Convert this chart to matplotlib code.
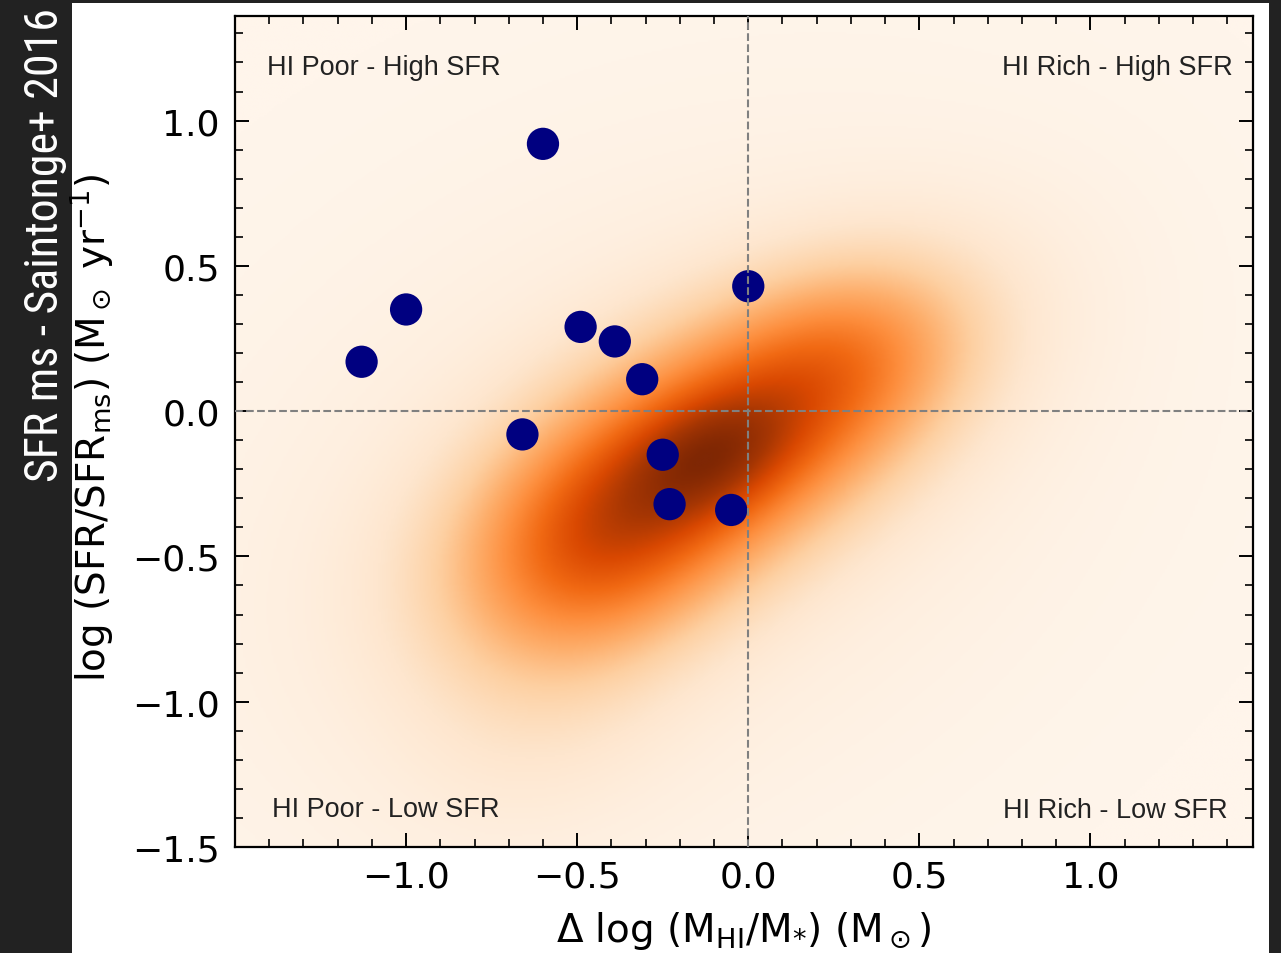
import numpy as np
import matplotlib
matplotlib.use('Agg')
import matplotlib.pyplot as plt
from matplotlib.patches import Rectangle
from matplotlib.ticker import MultipleLocator

# Galaxy sample: HI deficiency vs. offset from the SFR main sequence
delta_hi = [-0.60, -1.00, -1.13, -0.49, -0.39, -0.31, 0.00, -0.66, -0.25, -0.23, -0.05]
delta_sfr = [0.92, 0.35, 0.17, 0.29, 0.24, 0.11, 0.43, -0.08, -0.15, -0.32, -0.34]

# Reference population density as a sum of rotated gaussians
comp_x = [-0.10, -0.10, -0.45, 0.30, -0.60, -0.30]
comp_y = [-0.13, -0.15, -0.50, 0.20, -1.00, -0.30]
comp_sa = [0.50, 0.18, 0.30, 0.27, 0.35, 0.95]   # sigma along major axis
comp_sb = [0.27, 0.13, 0.24, 0.21, 0.27, 0.70]   # sigma along minor axis
comp_ang = [35, 35, 45, 35, 60, 40]              # major axis angle, deg
comp_w = [1.00, 0.30, 0.45, 0.30, 0.12, 0.13]

quadrants = ['HI Poor - High SFR', 'HI Rich - High SFR',
             'HI Poor - Low SFR', 'HI Rich - Low SFR']

xmin, xmax = -1.5, 1.475
ymin, ymax = -1.5, 1.36

fig = plt.figure(figsize=(12.81, 9.54), dpi=100, facecolor='#222222')
fig.patches.append(Rectangle((72 / 1281, 0), (1269 - 72) / 1281, 950 / 954,
                             transform=fig.transFigure, facecolor='white',
                             edgecolor='none', zorder=-5))

fig.text(45 / 1281, 1 - 245 / 954, 'SFR ms - Saintonge+ 2016', rotation=90,
         color='white', fontsize=33, ha='center', va='center',
         family=['Roboto Condensed', 'Oswald', 'Liberation Sans Narrow', 'DejaVu Sans'])

ax = fig.add_axes([235 / 1281, 1 - 848 / 954, (1253 - 235) / 1281, (848 - 17) / 954])

# density field
gx = np.linspace(xmin, xmax, 400)
gy = np.linspace(ymin, ymax, 400)
X, Y = np.meshgrid(gx, gy)
Z = np.zeros_like(X)
for cx, cy, sa, sb, ang, w in zip(comp_x, comp_y, comp_sa, comp_sb, comp_ang, comp_w):
    t = np.deg2rad(ang)
    u = ((X - cx) * np.cos(t) + (Y - cy) * np.sin(t)) / sa
    v = (-(X - cx) * np.sin(t) + (Y - cy) * np.cos(t)) / sb
    Z += w * np.exp(-0.5 * (u * u + v * v))
Z /= Z.max()

ax.imshow(Z, origin='lower', extent=[xmin, xmax, ymin, ymax], cmap='Oranges',
          vmin=0, vmax=1, aspect='auto', interpolation='bilinear', zorder=0)

ax.scatter(delta_hi, delta_sfr, s=540, color='navy', edgecolors='none', zorder=2)

ax.axvline(0, color='gray', ls='--', lw=1.5, zorder=3)
ax.axhline(0, color='gray', ls='--', lw=1.5, zorder=3)

ax.set_xlim(xmin, xmax)
ax.set_ylim(ymin, ymax)

ax.xaxis.set_major_locator(MultipleLocator(0.5))
ax.xaxis.set_minor_locator(MultipleLocator(0.1))
ax.yaxis.set_major_locator(MultipleLocator(0.5))
ax.yaxis.set_minor_locator(MultipleLocator(0.1))
ax.tick_params(which='both', direction='in', top=True, right=True, labelsize=26)
ax.tick_params(which='major', length=10, width=1.4)
ax.tick_params(which='minor', length=6, width=1.2)
ax.tick_params(axis='x', which='major', pad=9)
ax.tick_params(axis='y', which='major', pad=11)
ax.set_xticks([-1.0, -0.5, 0.0, 0.5, 1.0])
for s in ax.spines.values():
    s.set_linewidth(1.6)

ax.set_xlabel(r'$\Delta$ log (M$_{\rm HI}$/M$_{*}$) (M$_\odot$)', fontsize=28, labelpad=11)
ax.set_ylabel(r'log (SFR/SFR$_{\rm ms}$) (M$_\odot$ yr$^{-1}$)', fontsize=28)
ax.yaxis.set_label_coords(-0.118, 0.505)

qkw = dict(transform=ax.transAxes, fontsize=19.5, color='#222222',
           family=['Liberation Sans', 'DejaVu Sans'], va='center')
ax.text(0.031, 0.939, quadrants[0], ha='left', **qkw)
ax.text(0.980, 0.939, quadrants[1], ha='right', **qkw)
ax.text(0.036, 0.046, quadrants[2], ha='left', **qkw)
ax.text(0.975, 0.044, quadrants[3], ha='right', **qkw)

fig.savefig('out.png', dpi=100, facecolor=fig.get_facecolor())
